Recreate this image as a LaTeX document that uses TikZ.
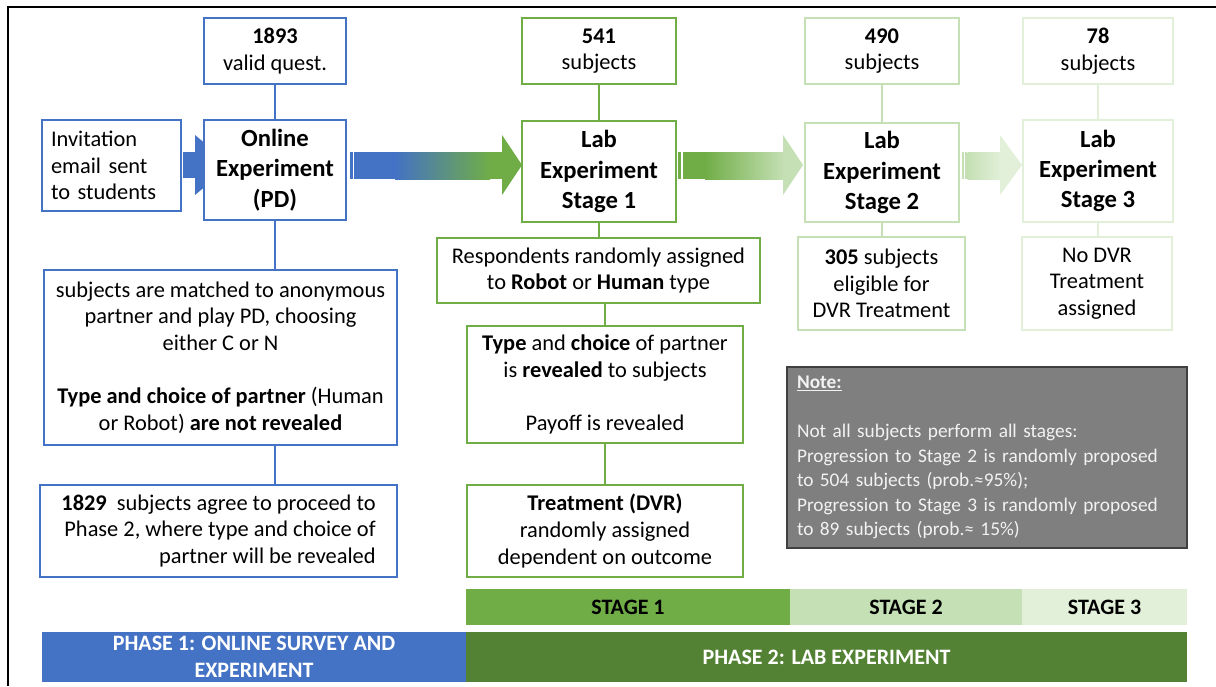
\documentclass[tikz,border=0pt]{standalone}
\usepackage{fontspec}
\setmainfont{Carlito}
\usetikzlibrary{calc}
\definecolor{pblue}{HTML}{4472C4}
\definecolor{pgreen}{HTML}{70AD47}
\definecolor{plight}{HTML}{C5E0B4}
\definecolor{plighter}{HTML}{E2F0D9}
\definecolor{pdark}{HTML}{548235}
\definecolor{notegray}{HTML}{7F7F7F}
\definecolor{notetext}{HTML}{F2F2F2}
\definecolor{noteline}{HTML}{404040}
\newcommand\normaltext{\fontsize{16.8}{20}\selectfont}
\newcommand\headtext{\fontsize{18.5}{22.8}\selectfont\bfseries}
\newcommand\notefont{\fontsize{14.5}{18.4}\selectfont}
\newcommand\barfont{\fontsize{16.5}{20.3}\selectfont\bfseries}
\newcommand\pnode[7]{\node[#2, minimum width={(#5-#3)*0.75pt}, minimum height={(#6-#4)*0.75pt}] (#1) at ({(#3+#5)/2},{(#4+#6)/2}) {#7};}
\tikzset{
  box/.style={draw, line width=2pt, fill=white, inner sep=2pt, align=center, font=\normaltext},
  bluebox/.style={box, draw=pblue},
  gbox/.style={box, draw=pgreen},
  lbox/.style={box, draw=plight},
  llbox/.style={box, draw=plighter},
  hbox/.style={font=\headtext},
  conn/.style={line width=2pt},
  barnode/.style={inner sep=0pt, align=center, font=\barfont},
}
\begin{document}
\begin{tikzpicture}[x=0.75pt,y=-0.75pt]
\useasboundingbox (0,0) rectangle (1216,686);
% frame
\draw[line width=1.2pt] (8,686) -- (8,7) -- (1216,7);

% small arrow
\fill[pblue] (183,152) rectangle (197,178);
\fill[pblue] (195,135) -- (231,165) -- (195,195) -- cycle;

% arrow 1
\fill[pblue] (349.5,152) rectangle (352.5,179);
\fill[pblue] (354,152) rectangle (395.5,179);
\shade[left color=pblue, right color=pgreen] (395,152) rectangle (490,179);
\fill[pgreen] (489.5,152) rectangle (503,179);
\fill[pgreen] (502,135) -- (522,165) -- (502,195) -- cycle;

% arrow 2
\fill[pgreen] (678.3,152) rectangle (680.7,179);
\fill[pgreen] (683,152) rectangle (705.5,179);
\shade[left color=pgreen, right color=plight] (705,152) rectangle (784,179);
\fill[plight] (783,135) -- (803,165) -- (783,195) -- cycle;

% arrow 3
\fill[plight] (961.7,152) rectangle (964,179);
\fill[plight] (965,152) rectangle (966.7,179);
\shade[left color=plight, right color=plighter] (967.7,152) rectangle (1001,179);
\fill[plighter] (1000,135) -- (1022,165) -- (1000,195) -- cycle;

% top row
\pnode{n1893}{bluebox}{204}{18}{346}{84}{\textbf{1893}\\valid quest.}
\pnode{n541}{gbox}{522}{18}{676}{84}{\textbf{541}\\subjects}
\pnode{n490}{lbox}{805}{18}{959}{84}{\textbf{490}\\subjects}
\pnode{n78}{llbox}{1023}{18}{1173}{84}{\textbf{78}\\subjects}

% main row
\pnode{inv}{bluebox, align=left, text width=90.75pt}{42}{120}{181}{211}{Invitation\\email sent\\to students}
\pnode{online}{bluebox, hbox}{204}{120}{346}{220}{Online\\Experiment\\(PD)}
\pnode{lab1}{gbox, hbox}{522}{121}{676}{222}{Lab\\Experiment\\Stage 1}
\pnode{lab2}{lbox, hbox}{805}{123}{959}{222}{Lab\\Experiment\\Stage 2}
\pnode{lab3}{llbox, hbox}{1023}{120}{1173}{222}{Lab\\Experiment\\Stage 3}

% phase 1 column
\pnode{matched}{bluebox}{44}{270}{397}{445}{subjects are matched to anonymous\\partner and play PD, choosing\\either C or N\\[20pt]\textbf{Type and choice of partner} (Human\\or Robot) \textbf{are not revealed}}
\pnode{agree}{bluebox, align=right}{40}{485}{397}{577}{\textbf{1829}\ \ subjects agree to proceed to\\Phase 2, where type and choice of\\partner will be revealed}

% stage 1 column
\pnode{resp}{gbox}{437}{238}{760}{303}{Respondents randomly assigned\\to \textbf{Robot} or \textbf{Human} type}
\pnode{typ}{gbox}{467}{326}{743}{443}{\textbf{Type} and \textbf{choice} of partner\\is \textbf{revealed} to subjects\\[20pt]Payoff is revealed}
\pnode{treat}{gbox}{467}{485}{743}{577}{\textbf{Treatment (DVR)}\\randomly assigned\\dependent on outcome}

% stage 2/3
\pnode{s305}{lbox}{798}{237}{965}{330}{\textbf{305} subjects\\eligible for\\DVR Treatment}
\pnode{nodvr}{llbox}{1022}{237}{1172}{330}{No DVR\\Treatment\\assigned}

% note
\pnode{note}{draw=noteline, line width=1pt, fill=notegray, text=notetext, font=\notefont, align=left, text width=285pt, inner sep=0pt}{787}{367}{1187}{548}{\underline{\textbf{Note:}}\\[18.4pt]Not all subjects perform all stages:\\Progression to Stage 2 is randomly proposed\\to 504 subjects (prob.≈95\%);\\Progression to Stage 3 is randomly proposed\\to 89 subjects (prob.≈ 15\%)}

% connectors
\draw[conn, pblue] (n1893.south) -- (online.north);
\draw[conn, pblue] (online.south) -- (matched.north -| online.south);
\draw[conn, pblue] (matched.south -| online.south) -- (agree.north -| online.south);
\draw[conn, pgreen] (n541.south) -- (lab1.north);
\draw[conn, pgreen] (lab1.south) -- (resp.north -| lab1.south);
\draw[conn, pgreen] (typ.north) -- (typ.north |- resp.south);
\draw[conn, pgreen] (typ.south) -- (treat.north);
\draw[conn, plight] (n490.south) -- (lab2.north);
\draw[conn, plight] (lab2.south) -- (s305.north -| lab2.south);
\draw[conn, plighter] (n78.south) -- (lab3.north);
\draw[conn, plighter] (lab3.south) -- (nodvr.north -| lab3.south);

% bars
\pnode{st1}{barnode, fill=pgreen}{466}{589}{790}{625}{STAGE 1}
\pnode{st2}{barnode, fill=plight}{790}{589}{1022}{625}{STAGE 2}
\pnode{st3}{barnode, fill=plighter}{1022}{589}{1187}{625}{STAGE 3}
\pnode{ph1}{barnode, fill=pblue, text=white}{42}{632}{466}{682}{PHASE 1: ONLINE SURVEY AND\\EXPERIMENT}
\pnode{ph2}{barnode, fill=pdark, text=white}{466}{632}{1187}{682}{PHASE 2: LAB EXPERIMENT}
\end{tikzpicture}
\end{document}
